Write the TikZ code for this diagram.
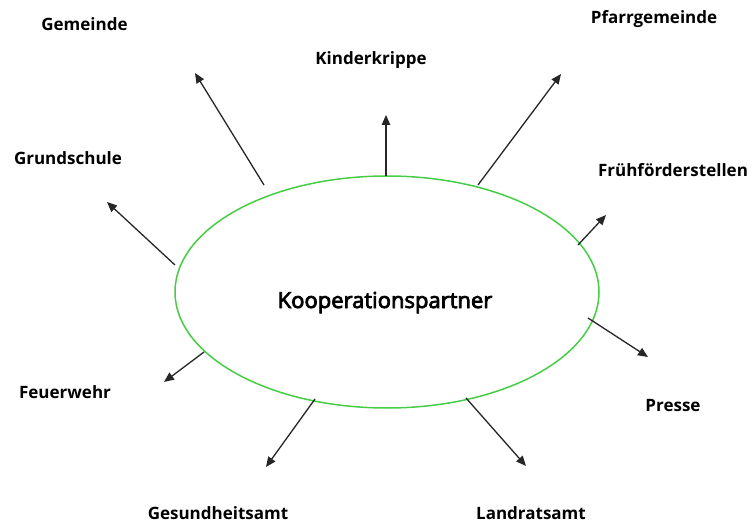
\documentclass[tikz,border=0pt]{standalone}
\usepackage{fontspec}
\setmainfont{Open Sans}
\newfontfamily\kopfont[FakeBold=3.5]{Open Sans}
\usetikzlibrary{arrows.meta}
\definecolor{ellgreen}{RGB}{70,205,70}
\tikzset{
  lbl/.style={font=\fontsize{17}{20}\selectfont\bfseries, anchor=base, inner sep=0pt},
  arr/.style={draw=black!85, line width=1.3pt, -{Triangle[length=10pt,width=8.5pt]}},
}
\begin{document}
\begin{tikzpicture}[x=1pt,y=-1pt]
\useasboundingbox (0,0) rectangle (753,524);
\draw[ellgreen, line width=1.5pt] (387,292) ellipse [x radius=212, y radius=116];
\node[font=\kopfont\fontsize{22}{26}\selectfont, anchor=base, inner sep=0pt] (center) at (385,308) {Kooperationspartner};
% labels
\node[lbl] (gem) at (84.5,31) {Gemeinde};
\node[lbl] (kin) at (371,65) {Kinderkrippe};
\node[lbl] (pfa) at (654,24) {Pfarrgemeinde};
\node[lbl] (gru) at (68,165) {Grundschule};
\node[lbl] (fru) at (673,177) {Frühförderstellen};
\node[lbl] (feu) at (65,398) {Feuerwehr};
\node[lbl] (pre) at (673,411) {Presse};
\node[lbl] (ges) at (218,519) {Gesundheitsamt};
\node[lbl] (lan) at (531,519) {Landratsamt};
% arrow endpoints
\coordinate (a1s) at (264,185); \coordinate (a1e) at (195,73);
\coordinate (a2s) at (386,176); \coordinate (a2e) at (386,115);
\coordinate (a3s) at (478,185); \coordinate (a3e) at (561,74);
\coordinate (a4s) at (578,245); \coordinate (a4e) at (606,215);
\coordinate (a5s) at (588,318); \coordinate (a5e) at (648,357);
\coordinate (a6s) at (466,398); \coordinate (a6e) at (526,466);
\coordinate (a7s) at (315,399); \coordinate (a7e) at (266,467);
\coordinate (a8s) at (204,352); \coordinate (a8e) at (164,382);
\coordinate (a9s) at (175,265); \coordinate (a9e) at (107,202);
\foreach \i in {1,...,9} {\draw[arr] (a\i s) -- (a\i e);}
\end{tikzpicture}
\end{document}
